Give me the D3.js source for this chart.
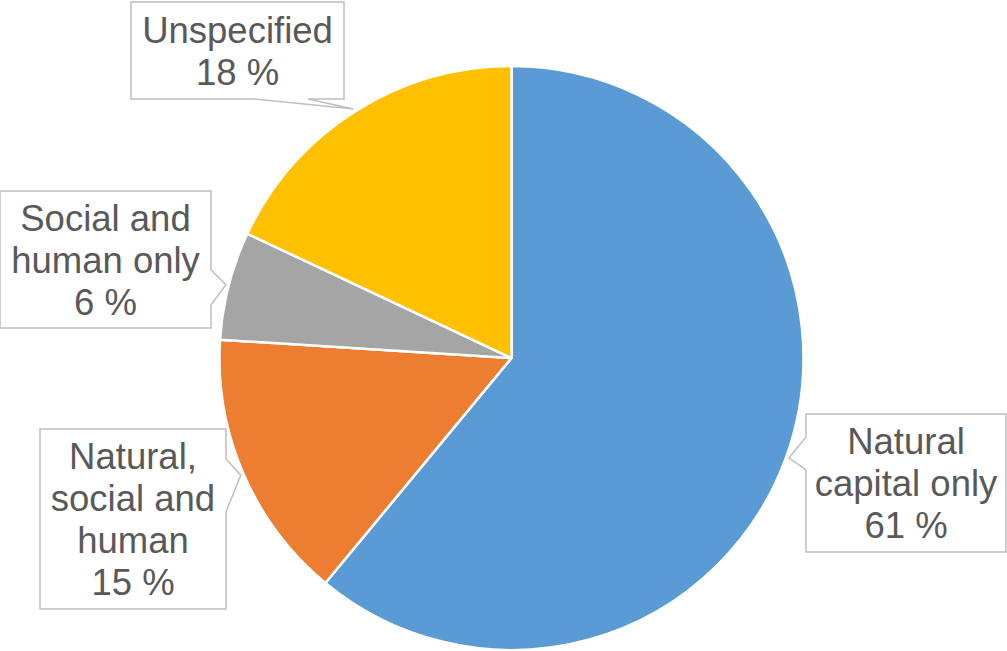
<!DOCTYPE html>
<html lang="en">
<head>
<meta charset="utf-8">
<title>Capital types pie</title>
<script src="https://d3js.org/d3.v7.min.js"></script>
<style>
  body { margin: 0; background: #fff; }
  svg { display: block; }
</style>
</head>
<body>
<script>
// data
var categories = ["Natural capital only", "Natural, social and human", "Social and human only", "Unspecified"];
var shares = [61, 15, 6, 18];
var labelLines = [
  ["Natural", "capital only"],
  ["Natural,", "social and", "human"],
  ["Social and", "human only"],
  ["Unspecified"]
];
var colors = ["#5b9bd5", "#ed7d31", "#a5a5a5", "#ffc000"];

// callout boxes (x0, y0, x1, y1) and which side the pointer sits on
var boxes = [
  {x0: 806, y0: 414, x1: 1006, y1: 552, side: "left", p0: 437, p1: 470},
  {x0: 40, y0: 429, x1: 226, y1: 609, side: "right", p0: 459, p1: 512},
  {x0: 0, y0: 191, x1: 211, y1: 328, side: "right", p0: 270, p1: 305},
  {x0: 131, y0: 2, x1: 344, y1: 99, side: "bottom", p0: 255, p1: 308}
];

var w = 1007, h = 651;
var cx = 511.5, cy = 358, r = 292;

var svg = d3.select("body").append("svg")
  .attr("width", w)
  .attr("height", h);

var pie = d3.pie().sort(null).value(d => d);
var arcs = pie(shares);

var arc = d3.arc().innerRadius(0).outerRadius(r);
var tipArc = d3.arc().innerRadius(r * 1.01).outerRadius(r * 1.01);

var g = svg.append("g").attr("transform", `translate(${cx},${cy})`);

g.selectAll("path.slice").data(arcs).enter().append("path")
  .attr("class", "slice")
  .attr("d", arc)
  .attr("fill", (d, i) => colors[i])
  .attr("stroke", "#fff")
  .attr("stroke-width", 2.5)
  .attr("stroke-linejoin", "round");

// callouts
function calloutPath(b, tip) {
  var tx = tip[0] + cx, ty = tip[1] + cy;
  if (b.side === "left") {
    return `M${b.x0},${b.y0} L${b.x1},${b.y0} L${b.x1},${b.y1} L${b.x0},${b.y1} L${b.x0},${b.p1} L${tx},${ty} L${b.x0},${b.p0} Z`;
  } else if (b.side === "right") {
    return `M${b.x0},${b.y0} L${b.x1},${b.y0} L${b.x1},${b.p0} L${tx},${ty} L${b.x1},${b.p1} L${b.x1},${b.y1} L${b.x0},${b.y1} Z`;
  }
  // bottom
  return `M${b.x0},${b.y0} L${b.x1},${b.y0} L${b.x1},${b.y1} L${b.p1},${b.y1} L${tx},${ty} L${b.p0},${b.y1} L${b.x0},${b.y1} Z`;
}

var lineH = 42;
arcs.forEach(function(a, i) {
  var b = boxes[i];
  var tip = tipArc.centroid(a);
  svg.append("path")
    .attr("d", calloutPath(b, tip))
    .attr("fill", "#fff")
    .attr("stroke", "#bfbfbf")
    .attr("stroke-width", 1.5);

  var lines = labelLines[i].concat([shares[i] + " %"]);
  var mx = (b.x0 + b.x1) / 2;
  var my = (b.y0 + b.y1) / 2;
  var first = my - (lines.length - 1) * lineH / 2 + 13;
  var t = svg.append("text")
    .attr("text-anchor", "middle")
    .attr("font-family", "'Liberation Sans', Arial, sans-serif")
    .attr("font-size", 36.5)
    .attr("fill", "#595959");
  lines.forEach(function(s, k) {
    t.append("tspan")
      .attr("x", mx)
      .attr("y", first + k * lineH)
      .text(s);
  });
});
</script>
</body>
</html>
